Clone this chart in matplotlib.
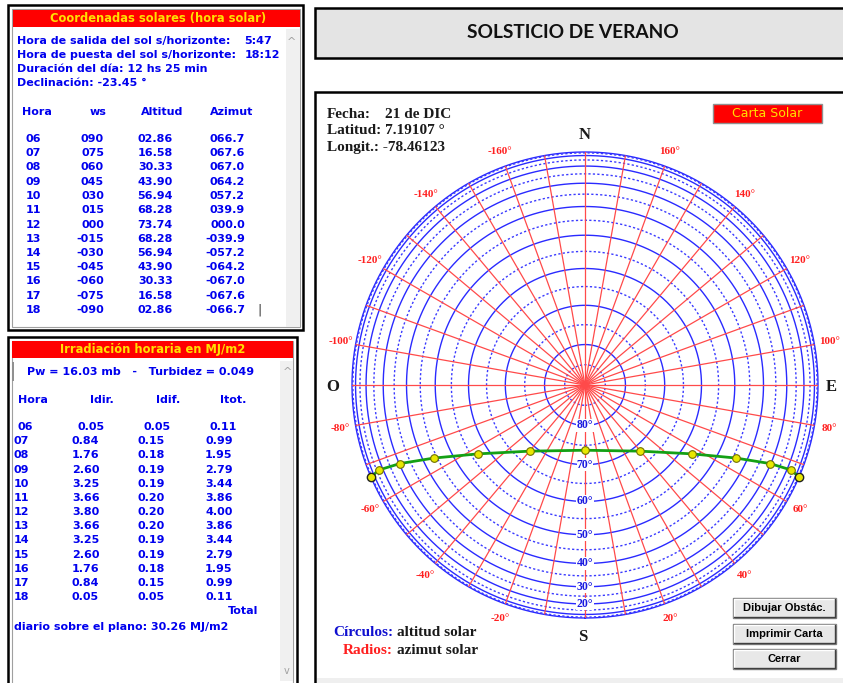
import numpy as np
import matplotlib.pyplot as plt
from matplotlib.patches import Rectangle

# Datos de la tabla de coordenadas solares
horas = ['06', '07', '08', '09', '10', '11', '12', '13', '14', '15', '16', '17', '18']
ws = [90, 75, 60, 45, 30, 15, 0, -15, -30, -45, -60, -75, -90]
altitud = [2.86, 16.58, 30.33, 43.90, 56.94, 68.28, 73.74, 68.28, 56.94, 43.90, 30.33, 16.58, 2.86]
azimut = [66.7, 67.6, 67.0, 64.2, 57.2, 39.9, 0.0, -39.9, -57.2, -64.2, -67.0, -67.6, -66.7]

# Irradiacion horaria (MJ/m2)
idir = [0.05, 0.84, 1.76, 2.60, 3.25, 3.66, 3.80, 3.66, 3.25, 2.60, 1.76, 0.84, 0.05]
idif = [0.05, 0.15, 0.18, 0.19, 0.19, 0.20, 0.20, 0.20, 0.19, 0.19, 0.18, 0.15, 0.05]
itot = [0.11, 0.99, 1.95, 2.79, 3.44, 3.86, 4.00, 3.86, 3.44, 2.79, 1.95, 0.99, 0.11]

# Etiquetas de la carta
az_labels = [-160, -140, -120, -100, -80, -60, -40, -20, 20, 40, 60, 80, 100, 120, 140, 160]
alt_labels = [80, 70, 60, 50, 40, 30, 20]

AZUL = '#0000ee'
ROJO_H = '#ff0000'
AMAR = '#ffe000'
SANS = 'DejaVu Sans'
SERIF = 'Liberation Serif'

fig = plt.figure(figsize=(8.43, 6.83), dpi=100)
bg = fig.add_axes([0, 0, 1, 1])
bg.set_xlim(0, 843)
bg.set_ylim(683, 0)
bg.axis('off')


def caja(x0, y0, x1, y1, fc='white', ec='black', lw=1.5, z=1):
    bg.add_patch(Rectangle((x0, y0), x1 - x0, y1 - y0, facecolor=fc, edgecolor=ec, lw=lw, zorder=z))


def txt(x, y, s, ha='left', color=AZUL, size=8, fam=SANS, weight='bold'):
    bg.text(x, y, s, ha=ha, va='center', color=color, fontsize=size, family=fam, weight=weight, zorder=5)


#----------------------- Panel 1: coordenadas solares -----------------------#
caja(8, 5, 303, 330, lw=1.8)
caja(12, 9, 300, 327, ec='#a0a0a0', lw=0.8)
caja(13, 10, 300, 27, fc=ROJO_H, ec='none', z=2)
txt(158, 18.5, 'Coordenadas solares (hora solar)', ha='center', color=AMAR, size=8.3)
caja(286, 29, 300, 327, fc='#f0f0f0', ec='none', z=2)
txt(292, 42, '^', ha='center', color='#a0a0a0', size=8, weight='normal')

txt(17, 41, 'Hora de salida del sol s/horizonte:')
txt(272, 41, '5:47', ha='right')
txt(17, 55, 'Hora de puesta del sol s/horizonte:')
txt(280, 55, '18:12', ha='right')
txt(17, 69, 'Duración del día: 12 hs 25 min')
txt(17, 83, 'Declinación: -23.45 °')

txt(22, 112, 'Hora')
txt(98, 112, 'ws', ha='center')
txt(162, 112, 'Altitud', ha='center')
txt(232, 112, 'Azimut', ha='center')

for i in range(len(horas)):
    y = 139 + i * 14.25
    w = ws[i]
    txt(26, y, horas[i])
    txt(104, y, f'{w:03d}' if w >= 0 else f'{w:04d}', ha='right')
    txt(173, y, f'{altitud[i]:05.2f}', ha='right')
    a = azimut[i]
    txt(245, y, f'{a:05.1f}' if a >= 0 else f'{a:06.1f}', ha='right')
txt(257, 310, '|', color='#303030', weight='normal', size=9)

#----------------------- Panel 2: irradiacion horaria -----------------------#
caja(8, 337, 297, 690, lw=1.8)
caja(12, 341, 293, 690, ec='#a0a0a0', lw=0.8)
caja(12, 341, 293, 358, fc=ROJO_H, ec='none', z=2)
txt(153, 349.5, 'Irradiación horaria en MJ/m2', ha='center', color=AMAR, size=8.3)
caja(280, 361, 293, 681, fc='#f0f0f0', ec='none', z=2)
caja(12, 362, 14, 381, fc='#909090', ec='none', z=2)
txt(287, 372, '^', ha='center', color='#a0a0a0', size=8, weight='normal')
txt(287, 671, 'v', ha='center', color='#a0a0a0', size=7, weight='normal')

txt(27, 372, 'Pw = 16.03 mb   -   Turbidez = 0.049')
txt(18, 400, 'Hora')
txt(102, 400, 'Idir.', ha='center')
txt(168, 400, 'Idif.', ha='center')
txt(233, 400, 'Itot.', ha='center')

for i in range(len(horas)):
    y = 427 + i * 14.17
    dx = 5 if i == 0 else 0
    txt(14 + (4 if i == 0 else 0), y, horas[i])
    txt(72 + dx, y, f'{idir[i]:.2f}')
    txt(138 + dx, y, f'{idif[i]:.2f}')
    txt(205 + dx, y, f'{itot[i]:.2f}')
txt(258, 611, 'Total', ha='right')
txt(14, 627, 'diario sobre el plano: 30.26 MJ/m2')

#----------------------- Titulo y marco de la carta -----------------------#
caja(315, 8, 850, 58, fc='#e4e4e4', lw=1.8)
bg.text(573, 32, 'SOLSTICIO DE VERANO', ha='center', va='center', fontsize=13.8,
        family='Lato', weight='bold', color='#111111', zorder=5)

caja(315, 92, 850, 700, lw=1.8)
caja(317, 678, 850, 700, fc='#efefef', ec='none', z=2)

txt(327, 114, 'Fecha:', color='#1a1a1a', size=11, fam=SERIF)
txt(385, 114, '21 de DIC', color='#1a1a1a', size=11, fam=SERIF)
txt(327, 131, 'Latitud: 7.19107 °', color='#1a1a1a', size=11, fam=SERIF)
txt(327, 148, 'Longit.: -78.46123', color='#1a1a1a', size=11, fam=SERIF)

caja(713, 104, 822, 123, fc=ROJO_H, ec='#909090', lw=1, z=2)
txt(767.5, 113.5, 'Carta Solar', ha='center', color=AMAR, size=9, weight='normal')

txt(585, 135, 'N', ha='center', color='#1a1a1a', size=12, fam=SERIF)
txt(583, 637, 'S', ha='center', color='#1a1a1a', size=12, fam=SERIF)
txt(333, 387, 'O', ha='center', color='#1a1a1a', size=12, fam=SERIF)
txt(831, 387, 'E', ha='center', color='#1a1a1a', size=12, fam=SERIF)

txt(393, 633, 'Círculos:', ha='right', color='#1010d0', size=11, fam=SERIF)
txt(397, 633, 'altitud solar', color='#1a1a1a', size=11, fam=SERIF)
txt(393, 651, 'Radios:', ha='right', color='#ff2020', size=11, fam=SERIF)
txt(397, 651, 'azimut solar', color='#1a1a1a', size=11, fam=SERIF)

# Botones
for (y0, y1, s) in [(598, 618, 'Dibujar Obstác.'), (624, 644, 'Imprimir Carta'), (649, 669, 'Cerrar')]:
    caja(733, y0, 836, y1, fc='#e8e8e8', ec='#808080', lw=1, z=2)
    bg.plot([734, 734, 835], [y1 - 1, y0 + 1, y0 + 1], color='white', lw=1, zorder=3)
    bg.plot([734, 835, 835], [y1 - 1, y1 - 1, y0 + 1], color='#404040', lw=1, zorder=3)
    txt(784.5, (y0 + y1) / 2, s, ha='center', color='black', size=8, fam='Liberation Sans')

#----------------------- Carta solar (polar) -----------------------#
cx, cy, R = 585, 385, 233
ax = fig.add_axes([(cx - R) / 843, (683 - cy - R) / 683, 2 * R / 843, 2 * R / 683], projection='polar')
ax.set_theta_zero_location('S')
ax.set_theta_direction(1)
ax.set_ylim(0, 1)
ax.set_xticks([])
ax.set_yticks([])
ax.grid(False)
ax.spines['polar'].set_visible(False)
ax.patch.set_alpha(0)

t = np.linspace(0, 2 * np.pi, 400)
for alt in range(0, 90, 5):
    r = np.cos(np.radians(alt))
    if alt % 10 == 0:
        ax.plot(t, np.full_like(t, r), color='#2a2aff', lw=1.0, zorder=2, clip_on=False)
    else:
        ax.plot(t, np.full_like(t, r), color='#3a3aff', lw=1.0, ls=(0, (1.6, 1.6)), zorder=2)

for az in range(-180, 180, 10):
    ax.plot([np.radians(az)] * 2, [0, 1], color='#ff4a4a', lw=0.9, zorder=3)

for az in az_labels:
    ax.text(np.radians(az), 1.065, f'{az}°', ha='center', va='center', color='#ff2020',
            fontsize=8, family=SERIF, weight='bold')

for alt in alt_labels:
    ax.text(0, np.cos(np.radians(alt)), f'{alt}°', ha='center', va='center', color='#1a1ae0',
            fontsize=8.5, family=SERIF, weight='bold', zorder=4,
            bbox=dict(facecolor='white', edgecolor='none', pad=0.2))

th = np.radians(azimut)
rr = np.cos(np.radians(altitud))
ax.plot(th, rr, color='#14a014', lw=2, zorder=5, clip_on=False)
ax.plot(th[1:-1], rr[1:-1], 'o', ms=5.5, mfc='#e8e800', mec='#707000', mew=0.8, zorder=6, clip_on=False)
ax.plot(th[[0, -1]], rr[[0, -1]], 'o', ms=6, mfc='#e8e800', mec='#202020', mew=1, zorder=6, clip_on=False)

fig.savefig('out.png', dpi=100)
